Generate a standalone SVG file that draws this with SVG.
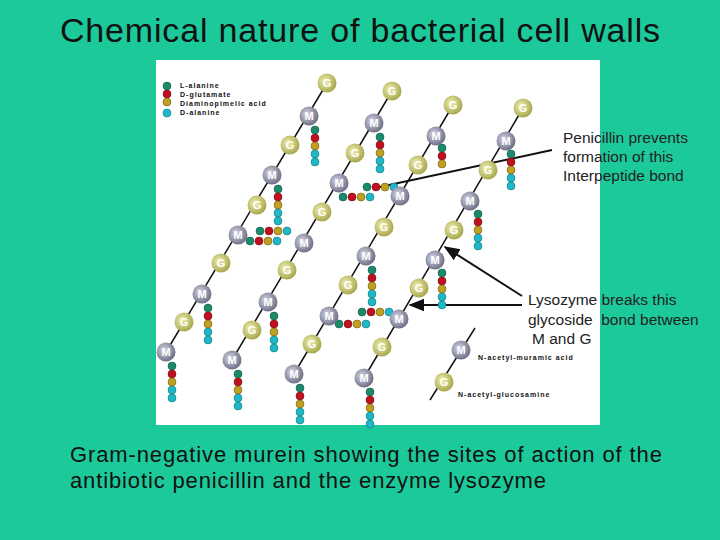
<svg xmlns="http://www.w3.org/2000/svg" xmlns:xlink="http://www.w3.org/1999/xlink" width="720" height="540" viewBox="0 0 720 540">
<style>
text{font-family:"Liberation Sans",Arial,sans-serif}
.lbl{font-size:15.5px;fill:#222}
.bl{font-size:11px;font-weight:bold;fill:#fff;text-anchor:middle}
.ch{stroke:#111;stroke-width:1.5}
.leg{font-size:7px;font-weight:bold;fill:#111;letter-spacing:1px}
</style>
<defs>
<radialGradient id="gg" cx="0.4" cy="0.4" r="0.6"><stop offset="0" stop-color="#f0f0b0"/><stop offset="1" stop-color="#a8a850"/></radialGradient>
<radialGradient id="mg" cx="0.4" cy="0.4" r="0.6"><stop offset="0" stop-color="#d8d8e8"/><stop offset="1" stop-color="#707088"/></radialGradient>
<marker id="ah" viewBox="0 0 10 10" refX="9" refY="5" markerWidth="8" markerHeight="8" orient="auto"><path d="M0,1 L10,5 L0,9 z" fill="#111"/></marker>
<g id="G"><circle r="9.5" fill="url(#gg)"/><text class="bl" y="4">G</text></g>
<g id="M"><circle r="9.5" fill="url(#mg)"/><text class="bl" y="4">M</text></g>
<g id="a1"><circle r="4" fill="#1a8a6a" stroke="#0a4a3a" stroke-width="0.5"/></g>
<g id="a2"><circle r="4" fill="#c01020" stroke="#600" stroke-width="0.5"/></g>
<g id="a3"><circle r="4" fill="#c0a020" stroke="#640" stroke-width="0.5"/></g>
<g id="a4"><circle r="4" fill="#20b8c8" stroke="#066" stroke-width="0.5"/></g>
<g id="stem"><use href="#a1" y="0"/><use href="#a2" y="8"/><use href="#a3" y="16"/><use href="#a4" y="24"/><use href="#a4" y="32"/></g>
<g id="hb"><use href="#a1" x="0"/><use href="#a2" x="9"/><use href="#a3" x="18"/><use href="#a4" x="27"/></g>
</defs>
<rect width="720" height="540" fill="#1cc99a"/>
<text x="60" y="42" font-size="34" textLength="600" fill="#111">Chemical nature of bacterial cell walls</text>
<rect x="156" y="60" width="444" height="365" fill="#fff"/>
<g id="legend">
<use href="#a1" x="167" y="86"/><use href="#a2" x="167" y="94"/><use href="#a3" x="167" y="102"/><use href="#a4" x="167" y="113"/>
<text class="leg" x="180" y="88">L-alanine</text><text class="leg" x="180" y="97">D-glutamate</text><text class="leg" x="180" y="106">Diaminopimelic acid</text><text class="leg" x="180" y="115">D-alanine</text>
</g>
<g id="connectors">
<line class="ch" x1="327" y1="83" x2="166" y2="352"/>
<line class="ch" x1="392" y1="91" x2="232" y2="360"/>
<line class="ch" x1="453" y1="105" x2="294" y2="374"/>
<line class="ch" x1="523" y1="108" x2="364" y2="378"/>
<line class="ch" x1="475" y1="328" x2="430" y2="400"/>
<line x1="552" y1="150" x2="375" y2="188" stroke="#111" stroke-width="2"/>
<line x1="522" y1="296" x2="445" y2="247" stroke="#111" stroke-width="2" marker-end="url(#ah)"/>
<line x1="522" y1="305" x2="410" y2="305" stroke="#111" stroke-width="2" marker-end="url(#ah)"/>
</g>
<g id="chain1">
<use href="#stem" x="315" y="130"/><use href="#stem" x="278" y="189"/><use href="#stem" x="208" y="308"/><use href="#stem" x="172" y="366"/>
<use href="#hb" x="250" y="241"/><use href="#hb" x="260" y="231"/>
<use href="#G" x="327" y="83"/><use href="#M" x="309" y="116"/><use href="#G" x="290" y="145"/><use href="#M" x="272" y="175"/><use href="#G" x="257" y="205"/><use href="#M" x="238" y="235"/><use href="#G" x="221" y="263"/><use href="#M" x="202" y="294"/><use href="#G" x="184" y="322"/><use href="#M" x="166" y="352"/>
</g>
<g id="chain2">
<use href="#stem" x="380" y="137"/><use href="#stem" x="274" y="316"/><use href="#stem" x="238" y="374"/>
<use href="#hb" x="343" y="197"/><use href="#hb" x="367" y="187"/>
<use href="#G" x="392" y="91"/><use href="#M" x="374" y="123"/><use href="#G" x="355" y="153"/><use href="#M" x="339" y="183"/><use href="#G" x="322" y="212"/><use href="#M" x="304" y="243"/><use href="#G" x="287" y="270"/><use href="#M" x="268" y="302"/><use href="#G" x="252" y="330"/><use href="#M" x="232" y="360"/>
</g>
<g id="chain3">
<use href="#a1" x="442" y="148"/><use href="#a2" x="442" y="156"/><use href="#a3" x="442" y="164"/>
<use href="#stem" x="372" y="270"/><use href="#stem" x="300" y="388"/>
<use href="#hb" x="339" y="324"/><use href="#hb" x="362" y="312"/>
<use href="#G" x="453" y="105"/><use href="#M" x="436" y="136"/><use href="#G" x="418" y="165"/><use href="#M" x="400" y="196"/><use href="#G" x="384" y="227"/><use href="#M" x="366" y="256"/><use href="#G" x="348" y="285"/><use href="#M" x="329" y="316"/><use href="#G" x="312" y="344"/><use href="#M" x="294" y="374"/>
</g>
<g id="chain4">
<use href="#stem" x="511" y="154"/><use href="#stem" x="478" y="214"/><use href="#stem" x="442" y="273"/><use href="#stem" x="370" y="392"/>
<use href="#G" x="523" y="108"/><use href="#M" x="506" y="141"/><use href="#G" x="488" y="170"/><use href="#M" x="470" y="201"/><use href="#G" x="454" y="230"/><use href="#M" x="435" y="260"/><use href="#G" x="419" y="288"/><use href="#M" x="399" y="319"/><use href="#G" x="382" y="347"/><use href="#M" x="364" y="378"/>
</g>
<g id="key">
<use href="#M" x="461" y="350"/><use href="#G" x="444" y="382"/>
<text class="leg" x="478" y="360">N-acetyl-muramic acid</text>
<text class="leg" x="458" y="397">N-acetyl-glucosamine</text>
</g>
<g id="notes">
<text class="lbl" x="563" y="143">Penicillin prevents</text>
<text class="lbl" x="563" y="162">formation of this</text>
<text class="lbl" x="563" y="181">Interpeptide bond</text>
<text class="lbl" x="528" y="305">Lysozyme breaks this</text>
<text class="lbl" x="528" y="325" xml:space="preserve">glycoside  bond between</text>
<text class="lbl" x="532" y="344">M and G</text>
</g>
<text x="70" y="462" font-size="22" textLength="592" fill="#111">Gram-negative murein showing the sites of action of the</text>
<text x="70" y="488" font-size="22" textLength="476" fill="#111">antibiotic penicillin and the enzyme lysozyme</text>
</svg>
